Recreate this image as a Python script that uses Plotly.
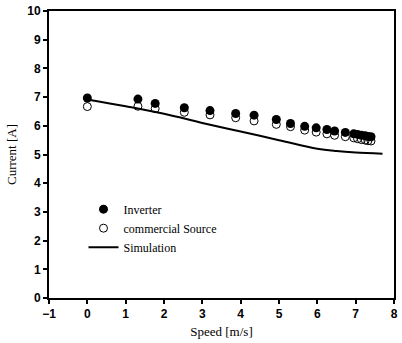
import plotly.graph_objects as go

speed = [0.0, 1.32, 1.77, 2.53, 3.2, 3.87, 4.35, 4.93, 5.3, 5.67, 5.97, 6.25, 6.45, 6.73, 6.95, 7.05, 7.15, 7.25, 7.32, 7.4]
inverter = [6.97, 6.93, 6.78, 6.63, 6.53, 6.43, 6.37, 6.22, 6.08, 5.98, 5.93, 5.87, 5.82, 5.77, 5.72, 5.70, 5.67, 5.65, 5.63, 5.62]
commercial = [6.67, 6.68, 6.60, 6.47, 6.38, 6.28, 6.17, 6.05, 5.97, 5.85, 5.78, 5.72, 5.67, 5.62, 5.58, 5.55, 5.52, 5.50, 5.48, 5.47]
sim_speed = [0.0, 1.0, 2.0, 3.0, 4.0, 5.0, 6.0, 6.5, 7.0, 7.7]
sim_current = [6.92, 6.68, 6.42, 6.10, 5.80, 5.50, 5.20, 5.12, 5.07, 5.03]

fig = go.Figure()
fig.add_trace(go.Scatter(x=speed, y=inverter, mode="markers", name="Inverter",
                         marker=dict(symbol="circle", size=9, color="black")))
fig.add_trace(go.Scatter(x=speed, y=commercial, mode="markers", name="commercial Source",
                         marker=dict(symbol="circle-open", size=8, color="black", line=dict(width=1))))
fig.add_trace(go.Scatter(x=sim_speed, y=sim_current, mode="lines", name="Simulation",
                         line=dict(color="black", width=2, shape="spline")))

axis_common = dict(showline=True, linecolor="black", linewidth=2, mirror=True,
                   ticks="outside", ticklen=4, tickwidth=1.5, tickcolor="black",
                   showgrid=False, zeroline=False,
                   tickfont=dict(family="Liberation Sans", size=12, color="black", weight="bold"))

fig.update_xaxes(range=[-1, 8], dtick=1, **axis_common,
                 title=dict(text="Speed [m/s]", font=dict(family="Liberation Serif", size=13, color="black"), standoff=6))
fig.update_yaxes(range=[0, 10], dtick=1, **axis_common,
                 title=dict(text="Current [A]", font=dict(family="Liberation Serif", size=13, color="black"), standoff=8))

fig.update_layout(
    width=402, height=343,
    margin=dict(l=49, r=4, t=11, b=45),
    plot_bgcolor="white", paper_bgcolor="white",
    legend=dict(x=0.10, y=0.36, xanchor="left", yanchor="top",
                font=dict(family="Liberation Serif", size=12, color="black"),
                bgcolor="rgba(0,0,0,0)", tracegroupgap=0, itemwidth=30),
    showlegend=True,
)

fig.write_html("out.html", config={"displayModeBar": False},
               post_script="document.body.style.margin='0';document.body.style.overflow='hidden';")
